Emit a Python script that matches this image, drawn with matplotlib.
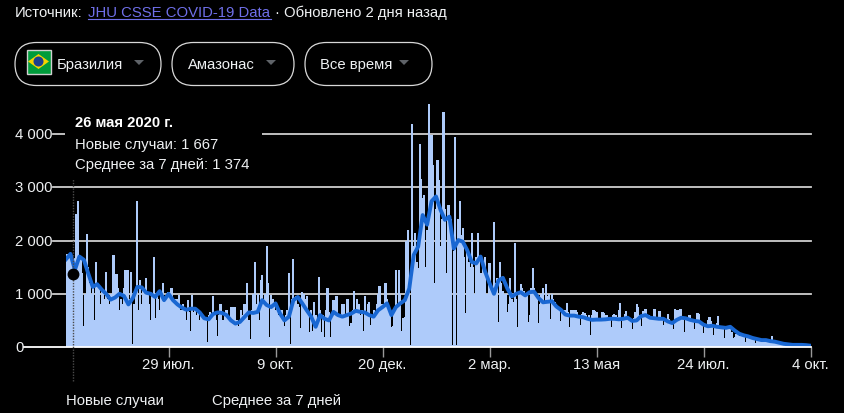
import numpy as np
import pandas as pd
import matplotlib
matplotlib.use("Agg")
from matplotlib import pyplot as plt
from matplotlib.patches import FancyBboxPatch, Rectangle, Polygon, Circle

plt.rcParams['font.family'] = ['Liberation Sans', 'DejaVu Sans']

# daily new cases, one value a day from 21 May 2020
new_cases = [
    1700, 1750, 1600, 1750, 400, 1667, 1500, 2500, 2750, 1700, 1650, 1400, 400, 1000, 2120, 1500, 1200, 1000, 1150, 500,
    1600, 1150, 1100, 800, 1050, 1000, 900, 1415, 900, 800, 1000, 100, 1730, 1000, 1380, 1100, 700, 900, 800, 1100,
    1450, 700, 1450, 900, 1415, 50, 800, 1000, 2740, 700, 1260, 800, 1100, 1000, 1290, 1000, 800, 500, 1000, 1700,
    550, 1000, 900, 700, 1000, 1200, 400, 900, 800, 1040, 800, 1100, 600, 900, 700, 900, 970, 700, 500, 800,
    700, 500, 880, 650, 300, 975, 650, 700, 600, 700, 500, 600, 600, 500, 500, 100, 600, 650, 600, 950,
    600, 500, 200, 600, 800, 500, 500, 600, 700, 100, 550, 750, 750, 550, 750, 500, 400, 500, 700, 600,
    800, 800, 1200, 500, 150, 700, 1000, 1590, 800, 1000, 500, 1260, 1350, 900, 1000, 1900, 1200, 190, 975, 900,
    800, 700, 800, 600, 400, 700, 500, 400, 600, 700, 1400, 50, 900, 1650, 900, 950, 800, 750, 350, 1040,
    1000, 900, 950, 700, 280, 700, 300, 850, 600, 500, 1320, 700, 280, 600, 180, 700, 1100, 650, 180, 600,
    890, 700, 950, 600, 600, 130, 800, 800, 600, 900, 900, 400, 450, 700, 1050, 700, 900, 800, 600, 700,
    300, 950, 650, 800, 850, 420, 600, 700, 600, 800, 1000, 1145, 700, 800, 350, 1210, 900, 700, 650, 380,
    400, 700, 1440, 800, 1440, 1000, 300, 550, 560, 2000, 2190, 1200, 30, 4200, 1900, 2150, 1600, 1480, 3825, 3150,
    2800, 2860, 1500, 2200, 4570, 2800, 3980, 3430, 1200, 2600, 3520, 3140, 1900, 2400, 4420, 2600, 1400, 2670, 2670, 2400,
    30, 1800, 3950, 30, 2400, 2740, 2100, 2240, 1700, 640, 1800, 1600, 1500, 2140, 1500, 1000, 1700, 2140, 1700, 1400,
    1300, 1600, 1690, 1000, 380, 1570, 690, 1100, 2350, 1200, 1300, 470, 1600, 1200, 1050, 1000, 1000, 650, 800, 1290,
    900, 850, 1950, 900, 380, 1000, 1180, 1100, 1050, 1000, 1000, 470, 600, 1100, 1490, 1100, 1000, 900, 450, 800,
    1000, 1100, 800, 1180, 950, 1000, 530, 990, 900, 850, 800, 750, 750, 480, 650, 700, 700, 830, 650, 380,
    700, 700, 700, 700, 650, 600, 410, 620, 650, 640, 600, 550, 600, 220, 600, 700, 680, 650, 550, 550,
    230, 650, 640, 600, 600, 550, 550, 370, 600, 620, 600, 570, 700, 830, 350, 550, 620, 680, 550, 550,
    500, 330, 550, 650, 800, 750, 600, 400, 680, 650, 720, 600, 600, 580, 560, 230, 720, 560, 530, 680,
    680, 560, 420, 540, 520, 620, 520, 480, 450, 340, 720, 700, 700, 720, 720, 560, 280, 530, 570, 600,
    600, 500, 480, 330, 500, 640, 620, 450, 420, 260, 400, 430, 500, 570, 480, 400, 220, 380, 450, 590,
    400, 360, 340, 170, 350, 380, 370, 350, 280, 160, 180, 250, 240, 210, 200, 220, 180, 100, 180, 190,
    170, 140, 150, 150, 70, 140, 130, 130, 130, 120, 110, 90, 110, 100, 90, 215, 90, 80, 90, 70,
    70, 60, 60, 50, 50, 50, 40, 40, 40, 40, 40, 40, 40, 40, 35, 35, 30, 30, 30, 25, 60,
]

# 7 day average, read every third day
avg_7d = [
    1650, 1750, 1450, 1700, 1640, 1380, 1130, 1180, 1080, 1000, 890, 930, 1000, 960, 800, 920, 1130, 1120, 1020, 1000,
    940, 1050, 880, 1000, 880, 800, 740, 700, 720, 720, 650, 540, 520, 620, 650, 640, 600, 500, 440, 470,
    560, 650, 640, 660, 880, 790, 750, 820, 630, 500, 570, 880, 940, 820, 690, 570, 380, 600, 530, 500,
    660, 600, 570, 600, 630, 680, 660, 650, 600, 570, 690, 750, 820, 600, 750, 820, 880, 1100, 1730, 1890,
    2480, 2300, 2740, 2830, 2580, 2390, 2450, 1850, 2010, 1980, 1820, 1600, 1570, 1700, 1420, 1200, 1000, 1250, 1300, 1100,
    950, 1000, 1030, 970, 1030, 1040, 920, 840, 850, 860, 760, 700, 610, 590, 590, 570, 560, 530, 510, 515,
    515, 520, 530, 530, 520, 530, 550, 490, 500, 580, 600, 550, 540, 530, 530, 480, 450, 510, 550, 540,
    510, 490, 480, 420, 390, 400, 380, 370, 360, 380, 310, 250, 220, 200, 170, 150, 130, 130, 110, 100,
    80, 60, 50, 40, 40, 40, 35, 25,
]

y_ticks = [0, 1000, 2000, 3000, 4000]
y_labels = ['0', '1 000', '2 000', '3 000', '4 000']
x_tick_dates = ['2020-07-29', '2020-10-09', '2020-12-20', '2021-03-02', '2021-05-13', '2021-07-24', '2021-10-04']
x_labels = ['29 июл.', '9 окт.', '20 дек.', '2 мар.', '13 мая', '24 июл.', '4 окт.']

selected_date = pd.Timestamp('2020-05-26')
selected_avg = 1374

W, H = 844, 414
TEXT = '#eef0f2'
FS = 10.75

days = pd.date_range('2020-05-21', periods=len(new_cases), freq='D')
avg_days = pd.date_range('2020-05-21', periods=len(avg_7d), freq='3D')

fig = plt.figure(figsize=(W / 100, H / 100), dpi=100, facecolor='black')

left, right, base, top = 66, 810.5, 348, 100
ax = fig.add_axes([left / W, (H - base) / H, (right - left) / W, (base - top) / H], facecolor='black')

ax.bar(days, new_cases, width=1.45, color='#aecbfa', linewidth=0, zorder=3)
ax.plot(avg_days, avg_7d, color='#1967d2', linewidth=2.8, solid_joinstyle='round', zorder=4)

ax.set_xlim(pd.Timestamp('2020-05-21'), pd.Timestamp('2021-10-04'))
ax.set_ylim(0, (base - top) / 0.0532)

# grid lines start right after each label, left of the plot area
trans = ax.get_yaxis_transform()
for val, lab in zip(y_ticks, y_labels):
    start = 24 if val == 0 else 53
    color = '#ffffff' if val == 0 else '#cfcfcf'
    ax.plot([(start - left) / (right - left), 1], [val, val], transform=trans, color=color,
            linewidth=1.3, clip_on=False, zorder=2 if val else 5)
    ax.text((15 - left) / (right - left), val, lab, transform=trans, color=TEXT, fontsize=FS,
            ha='left', va='center')

ax.set_xticks(pd.to_datetime(x_tick_dates))
ax.set_xticklabels(x_labels)
ax.set_yticks([])
ax.tick_params(axis='x', length=7, width=1, color='#9a9a9a', labelcolor=TEXT, labelsize=FS, pad=0.5)
for s in ax.spines.values():
    s.set_visible(False)

# hovered day
ax.axvline(selected_date, ymin=-(382 - base) / (base - top), ymax=(base - 180) / (base - top),
           color='#4a4a4a', linewidth=1, linestyle=(0, (1, 1)), clip_on=False, zorder=6)
ax.plot([selected_date], [selected_avg], 'o', color='black', markersize=7.5, zorder=7)

# page elements around the chart, in pixel coordinates
ui = fig.add_axes([0, 0, 1, 1], facecolor='none')
ui.set_xlim(0, W)
ui.set_ylim(H, 0)
ui.axis('off')

ui.add_patch(Rectangle((65, 108), 197, 70, facecolor='black', edgecolor='none'))
ui.text(75, 123.5, '26 мая 2020 г.', color='white', fontsize=FS, fontweight='bold', va='center')
ui.text(75, 145, 'Новые случаи: 1 667', color=TEXT, fontsize=FS, va='center')
ui.text(75, 165.5, 'Среднее за 7 дней: 1 374', color=TEXT, fontsize=FS, va='center')

ui.text(15, 13, 'Источник:', color=TEXT, fontsize=FS, va='center')
ui.text(88, 13, 'JHU CSSE COVID-19 Data', color='#6f6fe8', fontsize=FS, va='center')
ui.plot([88, 270.5], [20, 20], color='#6f6fe8', linewidth=0.8)
ui.text(275, 13, '· Обновлено 2 дня назад', color=TEXT, fontsize=FS, va='center')

pills = [(15, 161, 'Бразилия', 57, 139), (172, 294, 'Амазонас', 188, 271), (305, 432, 'Все время', 320, 404)]
for x0, x1, lab, tx, arrow in pills:
    ui.add_patch(FancyBboxPatch((x0 + 21.5, 65), x1 - x0 - 43, 0, boxstyle='round,pad=21.5,rounding_size=21.5',
                                facecolor='none', edgecolor='#d8d8d8', linewidth=0.9))
    ui.text(tx, 65, lab, color=TEXT, fontsize=FS, va='center')
    ui.add_patch(Polygon([[arrow - 5, 61], [arrow + 5, 61], [arrow, 66]], facecolor='#5f6368', edgecolor='none'))

# flag
ui.add_patch(Rectangle((26.5, 50.5), 24, 24, facecolor='#009c3b', edgecolor='#d0d0d0', linewidth=1))
ui.add_patch(Polygon([[28, 62.5], [38.5, 55], [49, 62.5], [38.5, 70]], facecolor='#f5d400', edgecolor='none'))
ui.add_patch(Circle((38.5, 62.5), 5, facecolor='#1d3f8f', edgecolor='none'))

ui.text(66, 401, 'Новые случаи', color=TEXT, fontsize=FS, va='center')
ui.text(212, 401, 'Среднее за 7 дней', color=TEXT, fontsize=FS, va='center')

fig.savefig('out.png', dpi=100, facecolor='black')
